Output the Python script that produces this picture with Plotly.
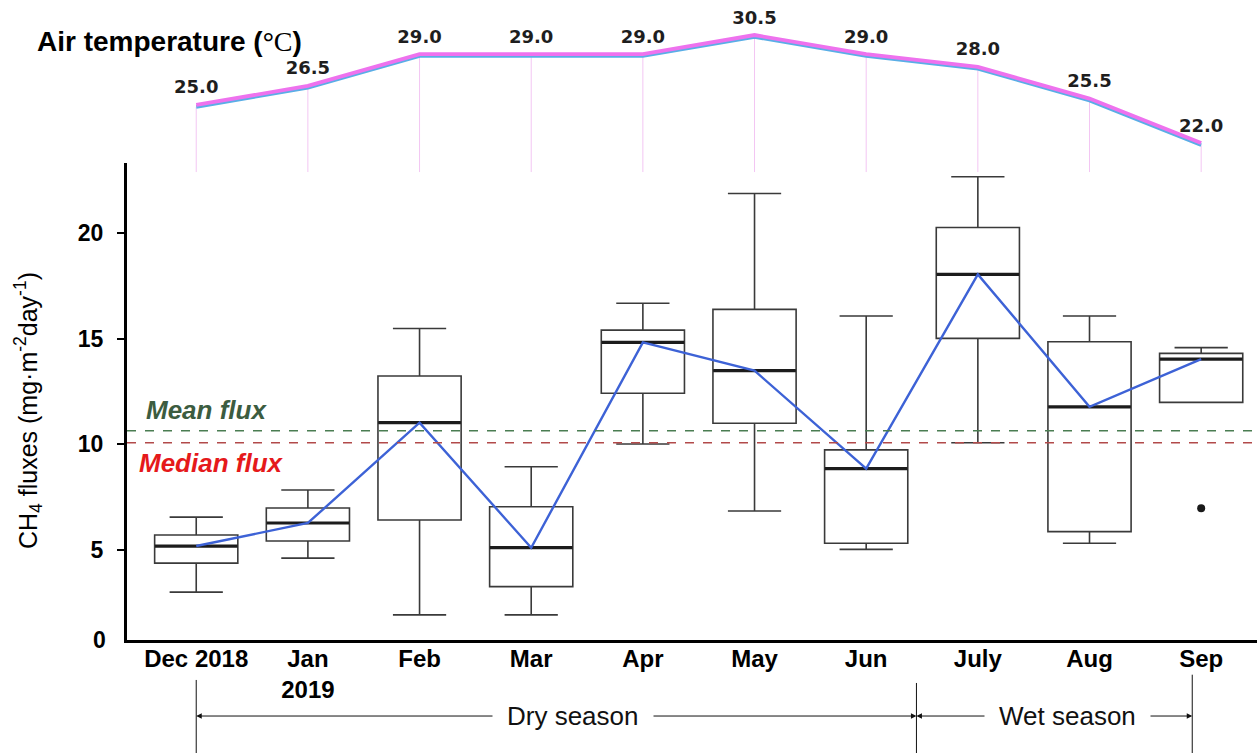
import plotly.graph_objects as go

# ---------------- data ----------------
months = ["Dec 2018", "Jan<br>2019", "Feb", "Mar", "Apr", "May", "Jun", "July", "Aug", "Sep"]
positions = list(range(len(months)))

q1 =          [4.38, 5.43, 6.42, 3.27, 12.42, 11.00, 5.32, 15.02, 5.87, 11.99]
median =      [5.19, 6.28, 11.03, 5.11, 14.83, 13.49, 8.85, 18.05, 11.78, 14.04]
q3 =          [5.71, 6.99, 13.24, 7.05, 15.41, 16.39, 9.74, 20.27, 14.86, 14.31]
lowerfence =  [3.01, 4.62, 1.93, 1.93, 10.02, 6.85, 5.03, 10.08, 5.32, 11.99]
upperfence =  [6.56, 7.84, 15.49, 8.94, 16.68, 21.88, 16.08, 22.67, 16.08, 14.58]

outlier_x = [9]
outlier_y = [6.98]

mean_flux = 10.65
median_flux = 10.08

air_temp = [25.0, 26.5, 29.0, 29.0, 29.0, 30.5, 29.0, 28.0, 25.5, 22.0]
air_temp_labels = [f"{t:.1f}" for t in air_temp]

y_ticks = [5, 10, 15, 20]

# ---------------- layout constants ----------------
W, H = 1257, 753
x_range = [-0.62, 9.5]
y_range = [0.74, 23.32]
t_range = [19.87, 31.68]
main_dom = [0.150, 0.7835]
temp_dom = [0.774, 0.9734]
shift = 2 / H          # light-blue underlay offset
label_shift = 7 / H    # temperature labels lifted a little

BOX_COL = "#3a3a3a"
AX_FONT = "Liberation Sans, Arial, sans-serif"

fig = go.Figure()

# temperature vertical guide lines + light-blue underlay (slightly lower panel)
fig.add_trace(go.Scatter(
    x=positions, y=air_temp, yaxis="y2", mode="lines",
    line=dict(color="#5aaee6", width=3.5),
    error_y=dict(type="data", symmetric=False,
                 array=[0] * len(air_temp),
                 arrayminus=[t - t_range[0] for t in air_temp],
                 color="#f3c6f3", thickness=1, width=0),
    hoverinfo="skip"))

# pink temperature line
fig.add_trace(go.Scatter(
    x=positions, y=air_temp, yaxis="y3", mode="lines",
    line=dict(color="#ee72ee", width=3.8),
    cliponaxis=False, hoverinfo="skip"))

# temperature labels
fig.add_trace(go.Scatter(
    x=positions, y=air_temp, yaxis="y4", mode="text",
    text=air_temp_labels, textposition="top center",
    textfont=dict(family="DejaVu Sans, Verdana, sans-serif", size=18, color="#1e1e1e",
                  weight="bold"),
    cliponaxis=False, hoverinfo="skip"))

# box plots
fig.add_trace(go.Box(
    x=positions, q1=q1, median=median, q3=q3,
    lowerfence=lowerfence, upperfence=upperfence,
    width=0.745, whiskerwidth=0.64,
    fillcolor="white", line=dict(color=BOX_COL, width=1.6),
    boxpoints=False, hoverinfo="skip"))

# thick median bars (line-ew symbol is drawn 1.4x its size)
fig.add_trace(go.Scatter(
    x=positions, y=median, mode="markers",
    marker=dict(symbol="line-ew", size=59, line=dict(width=3.2, color="#1c1c1c")),
    hoverinfo="skip"))

# blue line joining medians
fig.add_trace(go.Scatter(
    x=positions, y=median, mode="lines",
    line=dict(color="#3d62d6", width=2.4), hoverinfo="skip"))

# outlier
fig.add_trace(go.Scatter(
    x=outlier_x, y=outlier_y, mode="markers",
    marker=dict(color="#1a1a1a", size=8), hoverinfo="skip"))

shapes = [
    dict(type="line", xref="x domain", yref="y", x0=0, x1=1, y0=mean_flux, y1=mean_flux,
         line=dict(color="#4a7d52", width=1.6, dash="dash")),
    dict(type="line", xref="x domain", yref="y", x0=0, x1=1, y0=median_flux, y1=median_flux,
         line=dict(color="#b24a4a", width=1.6, dash="dash")),
    # season boundary lines
    dict(type="line", xref="x", yref="paper", x0=0, x1=0, y0=0, y1=0.097,
         line=dict(color="#111", width=1)),
    dict(type="line", xref="x", yref="paper", x0=6.45, x1=6.45, y0=0, y1=0.093,
         line=dict(color="#111", width=1)),
    dict(type="line", xref="x", yref="paper", x0=8.92, x1=8.92, y0=0, y1=0.104,
         line=dict(color="#111", width=1)),
]

arrow_y = 0.0491
ann = []
def arrow(head, tail):
    ann.append(dict(x=head, y=arrow_y, xref="x", yref="paper",
                    ax=tail, ay=0, axref="x", ayref="pixel",
                    showarrow=True, arrowhead=2, arrowsize=1.1, arrowwidth=1,
                    arrowcolor="#111", text=""))
arrow(0, 3.37)
arrow(6.45, 3.37)
arrow(6.45, 7.8)
arrow(8.92, 7.8)

ann += [
    dict(x=3.37, y=arrow_y, xref="x", yref="paper", text="Dry season", showarrow=False,
         xanchor="center", yanchor="middle",
         bgcolor="white", font=dict(family=AX_FONT, size=26, color="#111"),
         borderpad=14),
    dict(x=7.8, y=arrow_y, xref="x", yref="paper", text="Wet season", showarrow=False,
         xanchor="center", yanchor="middle",
         bgcolor="white", font=dict(family=AX_FONT, size=26, color="#111"),
         borderpad=14),
    dict(x=0.09, y=11.63, xref="x", yref="y", text="<b><i>Mean flux</i></b>", showarrow=False,
         xanchor="center", yanchor="middle",
         font=dict(family=AX_FONT, size=26, color="#3c5c40")),
    dict(x=0.14, y=9.12, xref="x", yref="y", text="<b><i>Median flux</i></b>", showarrow=False,
         xanchor="center", yanchor="middle",
         font=dict(family=AX_FONT, size=26, color="#e5191b")),
    dict(x=28 / W, y=(H - 411) / H, xref="paper", yref="paper", textangle=-90,
         xanchor="center", yanchor="middle",
         text="CH<sub>4</sub> fluxes (mg·m<sup>-2</sup>day<sup>-1</sup>)", showarrow=False,
         font=dict(family=AX_FONT, size=25, color="#000")),
    dict(x=35 / W, y=(H - 42) / H, xref="paper", yref="paper", xanchor="left", yanchor="middle",
         text="<b>Air temperature (</b><span style='font-family:Liberation Serif, Times New Roman, serif'><b>°</b>C</span><b>)</b>",
         showarrow=False, font=dict(family=AX_FONT, size=28, color="#000")),
    dict(x=108 / W, y=main_dom[0], xref="paper", yref="paper", xanchor="right", yanchor="middle",
         text="<b>0</b>", showarrow=False, font=dict(family=AX_FONT, size=23, color="#000")),
]

fig.update_layout(
    width=W, height=H, autosize=False,
    margin=dict(l=0, r=0, t=0, b=0),
    paper_bgcolor="white", plot_bgcolor="rgba(0,0,0,0)",
    showlegend=False,
    shapes=shapes, annotations=ann,
    xaxis=dict(domain=[127 / W, 1], range=x_range, anchor="y",
               tickmode="array", tickvals=positions,
               ticktext=["<b>" + m.replace("<br>", "</b><br><b>") + "</b>" for m in months],
               tickfont=dict(family=AX_FONT, size=24, color="#000"),
               showgrid=False, zeroline=False, showline=True, linecolor="#000", linewidth=3,
               ticks="", ticklabelstandoff=-5),
    yaxis=dict(domain=main_dom, range=y_range, anchor="x",
               tickmode="array", tickvals=y_ticks, ticktext=[f"<b>{v}</b>" for v in y_ticks],
               tickfont=dict(family=AX_FONT, size=23, color="#000"),
               showgrid=False, zeroline=False, showline=True, linecolor="#000", linewidth=3,
               ticks="outside", ticklen=7, tickwidth=1.5, tickcolor="#000",
               ticklabelstandoff=9),
    yaxis2=dict(domain=[temp_dom[0] - shift, temp_dom[1] - shift], range=t_range,
                anchor="x", visible=False),
    yaxis3=dict(domain=temp_dom, range=t_range, anchor="x", visible=False),
    yaxis4=dict(domain=[temp_dom[0] + label_shift, temp_dom[1] + label_shift], range=t_range,
                anchor="x", visible=False),
)

fig.write_html("out.html", config={"displayModeBar": False},
               post_script="document.body.style.margin='0';")
